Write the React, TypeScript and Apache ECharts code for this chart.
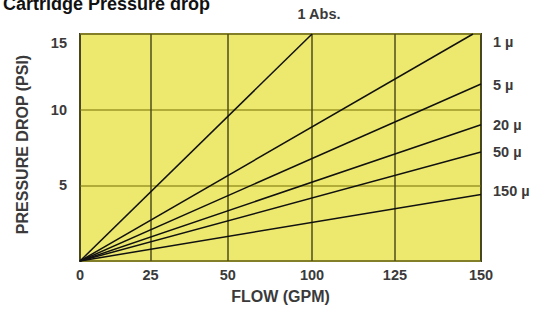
import React, { useEffect, useRef } from "react";
import * as echarts from "echarts";

// x positions of the (hand-drawn, unevenly spaced) flow ticks, in axis units 0..150
const flowTickPositions = [0, 26.4, 55.3, 86.8, 117.8, 150];
const flowTickLabels = ["0", "25", "50", "100", "125", "150"];
const pressureTicks = [0, 5, 10, 15];

const seriesNames = ["1 Abs.", "1 µ", "5 µ", "20 µ", "50 µ", "150 µ"];
const seriesEndFlow = [86.8, 147, 150, 150, 150, 150];
const seriesEndPressure = [15, 15, 11.7, 9.0, 7.2, 4.4];
const labelOffsets: [number, number][] = [
  [7, -20],
  [20, 8],
  [12, 1],
  [12, 0],
  [12, 0],
  [12, -3],
];

const FONT = "'Liberation Sans', Arial, sans-serif";
const TXT = "#3a3a3a";

export default function App() {
  const ref = useRef<HTMLDivElement>(null);
  useEffect(() => {
    if (!ref.current) return;
    const chart = echarts.init(ref.current, null, { renderer: "svg" });
    const series = seriesNames.map((name, i) => ({
      type: "line",
      name,
      data: [
        [0, 0],
        [seriesEndFlow[i], seriesEndPressure[i]],
      ],
      symbol: "none",
      lineStyle: { color: "#111", width: 1.5 },
      z: 5,
      endLabel: {
        show: true,
        formatter: name,
        distance: 0,
        offset: labelOffsets[i],
        align: i === 0 ? "center" : "left",
        verticalAlign: "middle",
        color: TXT,
        fontSize: 14.5,
        fontWeight: "bold",
        fontFamily: FONT,
      },
    }));
    chart.setOption({
      animation: false,
      title: {
        text: "Cartridge Pressure drop",
        left: -2,
        top: -10,
        textStyle: { fontSize: 18, fontWeight: "bold", color: "#111", fontFamily: FONT },
      },
      grid: {
        left: 80,
        right: 58,
        top: 34,
        bottom: 45,
        show: true,
        backgroundColor: "#ede96f",
        borderColor: "#3a3a30",
        borderWidth: 2,
      },
      xAxis: {
        type: "value",
        min: 0,
        max: 150,
        name: "FLOW (GPM)",
        nameLocation: "middle",
        nameGap: 27,
        nameTextStyle: { fontSize: 16, fontWeight: "bold", color: TXT, fontFamily: FONT },
        axisLine: { show: false },
        axisTick: { show: false, customValues: flowTickPositions },
        axisLabel: {
          customValues: flowTickPositions,
          margin: 6,
          color: TXT,
          fontSize: 14.5,
          fontWeight: "bold",
          fontFamily: FONT,
          formatter: (v: number) => {
            let best = 0;
            flowTickPositions.forEach((p, i) => {
              if (Math.abs(p - v) < Math.abs(flowTickPositions[best] - v)) best = i;
            });
            return flowTickLabels[best];
          },
        },
        splitLine: { show: true, lineStyle: { color: "#4f4d1a", width: 1.5 } },
      },
      yAxis: {
        type: "value",
        min: pressureTicks[0],
        max: pressureTicks[pressureTicks.length - 1],
        interval: 5,
        name: "PRESSURE DROP (PSI)",
        nameLocation: "middle",
        nameGap: 50,
        nameTextStyle: {
          fontSize: 16,
          fontWeight: "bold",
          color: TXT,
          fontFamily: FONT,
          padding: [0, 0, 0, 6],
        },
        axisLine: { show: false },
        axisTick: { show: false },
        axisLabel: {
          margin: 13,
          color: TXT,
          fontSize: 14.5,
          fontWeight: "bold",
          fontFamily: FONT,
          formatter: (v: number) => (v === 0 ? "" : v === 15 ? "{low|15}" : String(v)),
          rich: {
            low: { padding: [18, 0, 0, 0], fontSize: 14.5, fontWeight: "bold", color: TXT, fontFamily: FONT },
          },
        },
        splitLine: { show: true, lineStyle: { color: "#9c9726", width: 1.5 } },
      },
      series,
    });
    return () => chart.dispose();
  }, []);
  return (
    <div
      ref={ref}
      style={{ position: "fixed", left: 0, top: 0, width: 539, height: 309, background: "#fff" }}
    />
  );
}
